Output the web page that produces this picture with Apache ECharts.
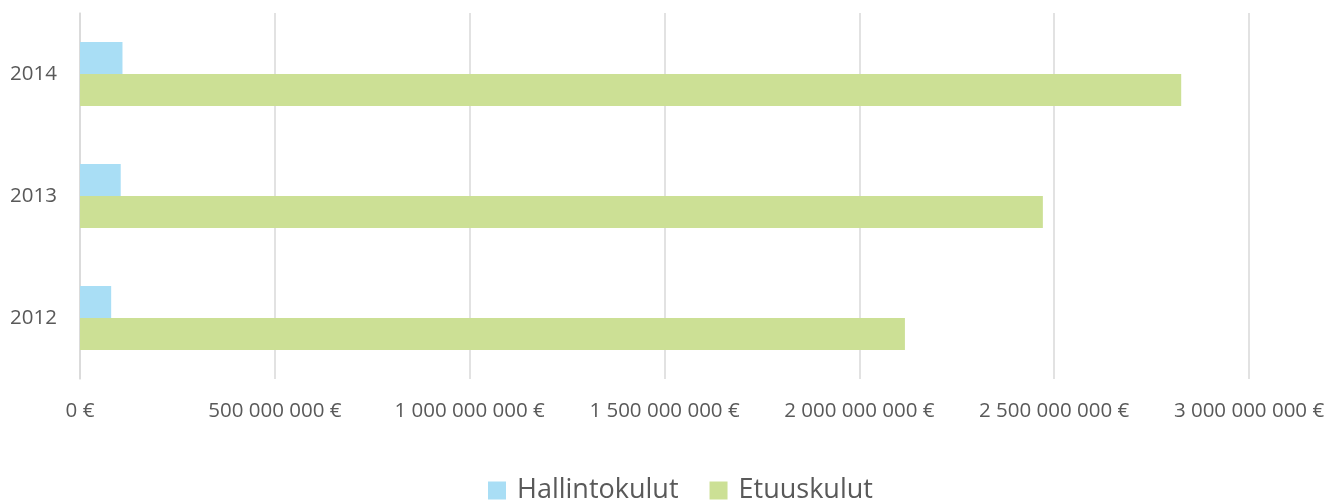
<!DOCTYPE html>
<html>
<head>
<meta charset="utf-8">
<script src="https://cdn.jsdelivr.net/npm/echarts@6/dist/echarts.min.js"></script>
<style>html,body{margin:0;padding:0;background:#fff}#c{width:1331px;height:500px}</style>
</head>
<body>
<div id="c"></div>
<script>
const years = ['2012', '2013', '2014'];
const hallintokulut = [80000000, 104500000, 109000000];
const etuuskulut = [2117000000, 2471000000, 2826000000];
const seriesNames = ['Hallintokulut', 'Etuuskulut'];

function fmt(v) {
  return String(Math.round(v)).replace(/\B(?=(\d{3})+(?!\d))/g, ' ') + ' €';
}

const FONT = '"Open Sans", sans-serif';
const chart = echarts.init(document.getElementById('c'), null, {renderer: 'canvas'});
chart.setOption({
  animation: false,
  backgroundColor: '#ffffff',
  textStyle: {fontFamily: FONT},
  grid: {left: 80, right: 82, top: 13, bottom: 121, containLabel: false},
  legend: {
    data: seriesNames,
    bottom: -9,
    left: 483,
    itemWidth: 18,
    itemHeight: 18,
    itemGap: 31,
    icon: 'rect',
    textStyle: {fontSize: 27, color: '#595959', fontFamily: FONT, padding: [0, 0, 0, 6]}
  },
  xAxis: {
    type: 'value',
    min: 0,
    max: 3000000000,
    interval: 500000000,
    axisLine: {show: false},
    axisTick: {show: false},
    splitLine: {lineStyle: {color: '#d9d9d9', width: 1.5}},
    axisLabel: {formatter: fmt, color: '#595959', fontSize: 20.5, margin: 22}
  },
  yAxis: {
    type: 'category',
    data: years,
    axisLine: {show: true, lineStyle: {color: '#d9d9d9', width: 1.5}},
    axisTick: {show: false},
    axisLabel: {color: '#595959', fontSize: 20.5, margin: 23}
  },
  series: [
    {
      name: 'Hallintokulut',
      type: 'bar',
      data: hallintokulut,
      itemStyle: {color: '#a9def5'},
      barGap: '0%',
      barCategoryGap: '47.5%'
    },
    {
      name: 'Etuuskulut',
      type: 'bar',
      data: etuuskulut,
      itemStyle: {color: '#cce095'},
      barGap: '0%',
      barCategoryGap: '47.5%'
    }
  ]
});
</script>
</body>
</html>
